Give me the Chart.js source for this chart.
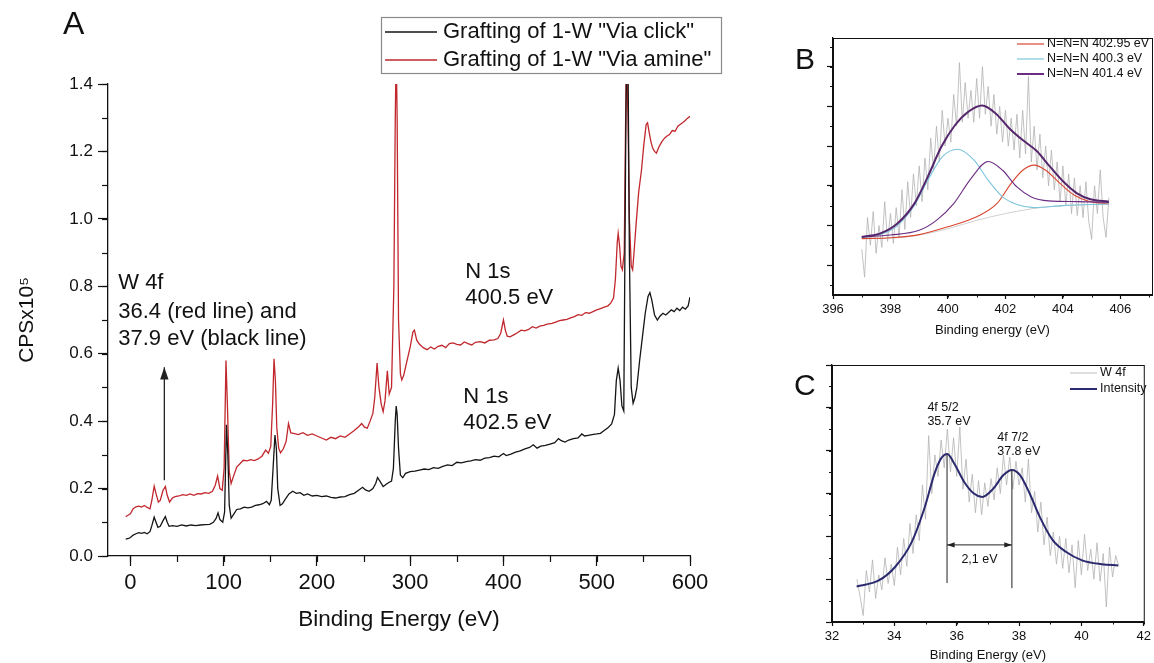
<!DOCTYPE html>
<html>
<head>
<meta charset="utf-8">
<title>XPS spectra</title>
<script src="https://cdn.jsdelivr.net/npm/chart.js@4.4.1/dist/chart.umd.min.js"></script>
<style>
  html, body { margin: 0; padding: 0; background: #fff; }
  body { width: 1154px; height: 663px; position: relative; overflow: hidden; }
  .panel { position: absolute; }
</style>
</head>
<body>
<div class="panel" style="left:0;top:0;width:760px;height:663px"><canvas id="chartA"></canvas></div>
<div class="panel" style="left:780px;top:0;width:374px;height:345px"><canvas id="chartB"></canvas></div>
<div class="panel" style="left:780px;top:345px;width:374px;height:318px"><canvas id="chartC"></canvas></div>
<script>
// ---- Panel A : survey spectra (CPS x 10^5 vs binding energy) ----
var clickEnergy = [-5,-2,0,3,6,9,12,15,18,21,23,25.5,27.5,29.5,32,35,37.5,39.5,41.5,45,50,55,60,65,70,75,80,85,89,92,94,96,99,101,103,104.5,106,108,111,114,118,122,126,130,134,138,142,146,149,151,153,155,156.5,158,160.5,163,166,170,174,178,182,186,190,195,200,205,210,215,220,225,230,235,240,245,249,252,256,260,263,265,268,271,274,277,280,282,284,285,286,287.5,289.5,292,295,300,305,310,315,320,325,330,335,340,345,350,355,360,365,370,375,380,385,390,395,400,403,408,413,418,423,428,432,436,440,445,450,455,459,462,466,470,475,480,484,487,491,495,500,504,508,512,516,519,521,523,525,527,529,531,532,533.5,535,537,539,541,543,546,549,552,555,557,559,562,565,568,571,574,577,580,583,586,589,592,595,598,600];
var clickCps = [0.050,0.052,0.055,0.062,0.066,0.069,0.067,0.070,0.066,0.072,0.090,0.115,0.100,0.085,0.088,0.105,0.117,0.100,0.088,0.090,0.088,0.092,0.089,0.092,0.090,0.092,0.093,0.094,0.100,0.112,0.128,0.108,0.100,0.130,0.389,0.300,0.150,0.112,0.125,0.138,0.140,0.145,0.143,0.145,0.150,0.152,0.155,0.162,0.152,0.165,0.260,0.359,0.320,0.200,0.150,0.155,0.168,0.184,0.192,0.186,0.188,0.180,0.184,0.178,0.180,0.176,0.178,0.174,0.172,0.175,0.176,0.182,0.186,0.196,0.204,0.196,0.192,0.200,0.215,0.233,0.220,0.206,0.212,0.218,0.222,0.260,0.400,0.445,0.420,0.320,0.240,0.232,0.245,0.250,0.252,0.255,0.258,0.256,0.262,0.260,0.266,0.270,0.268,0.278,0.276,0.280,0.282,0.286,0.284,0.290,0.292,0.296,0.294,0.304,0.298,0.302,0.308,0.312,0.318,0.322,0.330,0.320,0.326,0.328,0.332,0.336,0.348,0.342,0.338,0.344,0.348,0.350,0.362,0.356,0.358,0.360,0.362,0.364,0.372,0.380,0.392,0.420,0.520,0.557,0.520,0.445,0.430,1.200,1.500,1.500,0.900,0.500,0.453,0.470,0.500,0.580,0.650,0.720,0.770,0.781,0.760,0.715,0.700,0.712,0.720,0.715,0.722,0.730,0.725,0.735,0.728,0.738,0.732,0.742,0.768];

var amineEnergy = [-5,-3,0,3,6,9,12,15,18,21,23,25.5,27.5,30,32,35,37.5,39.5,42,45,48,52,56,60,64,68,72,76,80,84,88,91,93.5,96,98.5,100.5,102.5,104,106,108,111,114,118,121,125,129,133,137,141,145,148,150.5,152.5,154,155.5,157,159,161,164,167,169.5,172,175,180,185,190,195,200,205,210,215,220,225,230,235,240,245,248,251,254,257,260,262,264.5,266.5,269,271,273,275.5,277.5,280,282.5,284,285,286,287.5,289.5,291,293,296,300,303,304.5,307,310,314,318,322,326,330,334,338,342,346,350,354,358,362,366,370,375,380,385,390,394,397,400,402,404,407,411,415,419,423,427,431,435,439,443,447,452,456,460,464,468,472,476,480,484,488,492,496,500,504,508,512,515,518,520,522,523,524.5,526,527.5,529.5,531,532,533.5,535,537,538.5,540,542,545,548,550.5,553,554.5,556,558,560,562,564,567,570,573,575,578,581,584,587,589,592,595,597,600];
var amineCps = [0.117,0.120,0.125,0.140,0.146,0.148,0.145,0.150,0.144,0.140,0.165,0.207,0.185,0.160,0.165,0.195,0.206,0.180,0.160,0.172,0.176,0.178,0.182,0.180,0.184,0.180,0.185,0.184,0.188,0.186,0.192,0.210,0.237,0.200,0.195,0.260,0.580,0.450,0.250,0.215,0.240,0.264,0.275,0.284,0.282,0.286,0.283,0.288,0.296,0.314,0.305,0.325,0.450,0.585,0.520,0.380,0.320,0.306,0.318,0.340,0.393,0.365,0.364,0.360,0.366,0.358,0.362,0.356,0.350,0.344,0.352,0.348,0.356,0.352,0.362,0.372,0.384,0.393,0.382,0.379,0.400,0.423,0.470,0.572,0.500,0.450,0.428,0.460,0.549,0.480,0.500,0.800,1.300,1.500,1.300,0.700,0.540,0.522,0.535,0.572,0.620,0.665,0.670,0.640,0.628,0.618,0.612,0.620,0.614,0.622,0.625,0.618,0.630,0.632,0.628,0.626,0.635,0.630,0.626,0.634,0.636,0.632,0.640,0.641,0.645,0.660,0.700,0.670,0.652,0.650,0.656,0.662,0.670,0.668,0.672,0.680,0.676,0.682,0.684,0.688,0.690,0.694,0.698,0.700,0.702,0.706,0.710,0.716,0.714,0.722,0.720,0.725,0.730,0.734,0.738,0.742,0.750,0.765,0.820,0.930,0.957,0.920,0.860,0.849,0.900,1.300,1.500,1.300,1.000,0.860,0.849,0.900,0.977,1.080,1.145,1.220,1.280,1.285,1.260,1.230,1.210,1.200,1.195,1.215,1.230,1.240,1.245,1.250,1.262,1.260,1.275,1.279,1.285,1.292,1.298,1.304];

var xTicksA = [0, 100, 200, 300, 400, 500, 600];
var yTicksA = [0.0, 0.2, 0.4, 0.6, 0.8, 1.0, 1.2, 1.4];

// ---- Panel B : N 1s high resolution ----
var n1sEnergy = [397.0,397.1,397.2,397.3,397.4,397.5,397.6,397.7,397.8,397.9,398.0,398.1,398.2,398.3,398.4,398.5,398.6,398.7,398.8,398.9,399.0,399.1,399.2,399.3,399.4,399.5,399.6,399.7,399.8,399.9,400.0,400.1,400.2,400.3,400.4,400.5,400.6,400.7,400.8,400.9,401.0,401.1,401.2,401.3,401.4,401.5,401.6,401.7,401.8,401.9,402.0,402.1,402.2,402.3,402.4,402.5,402.6,402.7,402.8,402.9,403.0,403.1,403.2,403.3,403.4,403.5,403.6,403.7,403.8,403.9,404.0,404.1,404.2,404.3,404.4,404.5,404.6,404.7,404.8,404.9,405.0,405.1,405.2,405.3,405.4,405.5,405.6];
var n1sRaw = [0.4,-0.3,1.2,0.5,1.35,0.3,1.0,0.45,1.6,0.6,1.3,0.55,1.45,0.7,1.9,0.9,2.1,1.2,2.3,1.5,2.5,1.6,2.7,1.9,3.2,2.4,3.5,2.6,3.9,3.0,3.7,3.1,4.3,3.5,5.1,3.6,4.6,3.7,4.4,3.6,4.7,3.7,5.0,3.8,4.5,3.5,4.3,3.3,4.0,3.1,3.9,3.0,3.7,2.9,3.8,2.7,3.9,2.8,4.75,2.6,3.5,2.4,3.3,2.2,3.0,2.0,2.9,1.9,2.6,1.6,2.5,1.5,2.3,1.3,2.2,1.25,2.0,1.2,2.1,1.1,0.65,2.0,1.3,2.4,1.2,0.7,1.7];

var envBEnergy = [397.0,397.65,398.24,398.83,399.3,399.77,400.25,400.72,401.19,401.66,402.13,402.6,403.08,403.55,404.02,404.49,404.96,405.6];
var envBValue = [0.71,0.80,1.05,1.55,2.23,2.98,3.53,3.87,4.02,3.82,3.45,3.15,2.88,2.48,2.10,1.81,1.66,1.60];
var baseBEnergy = [397,398,399,400,401,402,403,404,405.6];
var baseBValue = [0.67,0.68,0.76,0.92,1.13,1.30,1.43,1.50,1.54];
var peak402Energy = [397,398,399,400,401,401.7,402.2,402.6,403.0,403.4,403.9,404.4,404.9,405.6];
var peak402Value = [0.67,0.69,0.77,0.97,1.22,1.55,2.06,2.39,2.52,2.39,2.06,1.76,1.61,1.54];
var peak400Energy = [397,397.6,398.2,398.8,399.3,399.8,400.35,400.9,401.4,401.9,402.4,403,404,405.6];
var peak400Value = [0.70,0.76,0.97,1.47,2.14,2.73,2.92,2.65,2.14,1.72,1.53,1.45,1.50,1.54];
var peak401Energy = [397,398,399,399.6,400.2,400.8,401.4,401.9,402.4,402.9,403.5,404.5,405.6];
var peak401Value = [0.71,0.76,0.88,1.13,1.55,2.18,2.61,2.39,1.97,1.72,1.62,1.60,1.58];
var xTicksB = [396, 398, 400, 402, 404, 406];

// ---- Panel C : W 4f high resolution ----
var w4fEnergy = [32.8,32.9,33.0,33.1,33.2,33.3,33.4,33.5,33.6,33.7,33.8,33.9,34.0,34.1,34.2,34.3,34.4,34.5,34.6,34.7,34.8,34.9,35.0,35.1,35.2,35.3,35.4,35.5,35.6,35.7,35.8,35.9,36.0,36.1,36.2,36.3,36.4,36.5,36.6,36.7,36.8,36.9,37.0,37.1,37.2,37.3,37.4,37.5,37.6,37.7,37.8,37.9,38.0,38.1,38.2,38.3,38.4,38.5,38.6,38.7,38.8,38.9,39.0,39.1,39.2,39.3,39.4,39.5,39.6,39.7,39.8,39.9,40.0,40.1,40.2,40.3,40.4,40.5,40.6,40.7,40.8,40.9,41.0,41.1,41.2];
var w4fRaw = [1.0,0.6,0.15,1.2,0.7,1.45,0.55,1.1,0.75,1.5,0.9,1.35,0.85,1.75,1.1,1.95,1.3,2.3,1.6,2.5,1.9,3.2,2.4,4.35,3.0,3.9,3.4,4.25,3.6,4.5,3.5,4.3,3.4,4.55,3.1,3.8,2.8,3.45,2.55,3.3,2.5,3.25,2.7,3.35,2.85,3.6,3.0,3.9,3.2,3.85,3.1,3.75,3.2,3.6,2.8,3.8,2.55,3.05,2.1,2.8,1.8,2.45,1.55,2.1,1.35,2.0,1.25,1.95,1.15,1.8,0.8,1.9,1.1,2.05,1.2,1.7,1.0,1.85,0.95,1.6,0.35,1.75,1.05,1.55,1.3];
var envCEnergy = [32.79,33.5,34.03,34.56,34.98,35.29,35.5,35.7,35.92,36.24,36.55,36.82,37.18,37.5,37.77,38.03,38.34,38.66,39.08,39.5,40.02,40.65,41.18];
var envCValue = [0.83,0.97,1.29,1.87,2.69,3.47,3.82,3.92,3.70,3.27,3.0,2.92,3.12,3.43,3.55,3.43,3.0,2.46,1.91,1.64,1.44,1.35,1.32];
var xTicksC = [32, 34, 36, 38, 40, 42];

var FONT = "'Liberation Sans', Arial, sans-serif";
Chart.defaults.font.family = FONT;
Chart.defaults.color = '#111';

function pts(xs, ys) {
  return xs.map(function (x, i) { return { x: x, y: ys[i] }; });
}

function drawHead(ctx, x1, y1, x2, y2, size) {
  var ang = Math.atan2(y2 - y1, x2 - x1);
  ctx.beginPath();
  ctx.moveTo(x2, y2);
  ctx.lineTo(x2 - size * Math.cos(ang - 0.33), y2 - size * Math.sin(ang - 0.33));
  ctx.lineTo(x2 - size * Math.cos(ang + 0.33), y2 - size * Math.sin(ang + 0.33));
  ctx.closePath();
  ctx.fill();
}

// minor ticks, frame, legend box and text notes
var decor = {
  id: 'decor',
  afterDraw: function (chart, args, o) {
    var ctx = chart.ctx, a = chart.chartArea;
    var xs = chart.scales.x, ys = chart.scales.y;
    ctx.save();
    ctx.strokeStyle = '#111';
    ctx.fillStyle = '#111';
    ctx.lineWidth = o.tickWidth || 1;
    var i, p;
    if (o.xMinor) {
      for (i = Math.ceil(xs.min / o.xMinor - 1e-9); i * o.xMinor <= xs.max + 1e-9; i++) {
        p = Math.round(xs.getPixelForValue(i * o.xMinor)) + 0.5;
        ctx.beginPath(); ctx.moveTo(p, a.bottom); ctx.lineTo(p, a.bottom + o.xMinorLen); ctx.stroke();
      }
    }
    if (o.yMinor) {
      for (i = Math.ceil(ys.min / o.yMinor - 1e-9); i * o.yMinor <= ys.max + 1e-9; i++) {
        p = Math.round(ys.getPixelForValue(i * o.yMinor)) + 0.5;
        ctx.beginPath(); ctx.moveTo(a.left, p); ctx.lineTo(a.left - o.yMinorLen, p); ctx.stroke();
      }
    }
    if (o.box) {
      ctx.lineWidth = 1;
      ctx.strokeRect(a.left + 0.5, a.top + 0.5, a.right - a.left, a.bottom - a.top);
    }
    if (o.legend) {
      var L = o.legend;
      if (L.frame) {
        ctx.strokeStyle = '#8a8a8a';
        ctx.lineWidth = 1.2;
        ctx.strokeRect(L.frame[0], L.frame[1], L.frame[2], L.frame[3]);
      }
      ctx.font = L.size + 'px ' + FONT;
      ctx.textAlign = 'left';
      ctx.textBaseline = 'middle';
      L.rows.forEach(function (r) {
        ctx.strokeStyle = r.color;
        ctx.lineWidth = r.width;
        ctx.beginPath(); ctx.moveTo(L.x1, r.y); ctx.lineTo(L.x2, r.y); ctx.stroke();
        ctx.fillStyle = '#111';
        ctx.fillText(r.text, L.tx, r.y);
      });
    }
    (o.lines || []).forEach(function (l) {
      var x1 = xs.getPixelForValue(l.x1), y1 = ys.getPixelForValue(l.y1);
      var x2 = xs.getPixelForValue(l.x2), y2 = ys.getPixelForValue(l.y2);
      ctx.strokeStyle = '#222';
      ctx.fillStyle = '#222';
      ctx.lineWidth = l.width || 1;
      ctx.beginPath(); ctx.moveTo(x1, y1); ctx.lineTo(x2, y2); ctx.stroke();
      if (l.head2) drawHead(ctx, x1, y1, x2, y2, l.head);
      if (l.head1) drawHead(ctx, x2, y2, x1, y1, l.head);
    });
    (o.notes || []).forEach(function (n) {
      ctx.font = n.size + 'px ' + FONT;
      ctx.fillStyle = '#111';
      ctx.textAlign = n.align || 'left';
      ctx.textBaseline = 'middle';
      var px = n.px ? n.x : xs.getPixelForValue(n.x);
      var py = n.px ? n.y : ys.getPixelForValue(n.y);
      ctx.fillText(n.text, px, py);
    });
    ctx.restore();
  }
};

function axisX(min, max, step, fontSize, tickLen, pad, h, title, titleSize, titlePad) {
  return {
    type: 'linear', min: min, max: max,
    afterFit: function (s) { s.height = h; },
    border: { display: true, color: '#111', width: 1.3 },
    grid: { display: true, drawOnChartArea: false, drawTicks: true, tickLength: tickLen, tickColor: '#111', tickWidth: 1.2 },
    ticks: { stepSize: step, includeBounds: false, autoSkip: false, maxRotation: 0, padding: pad, color: '#111', font: { size: fontSize } },
    title: { display: true, text: title, color: '#111', font: { size: titleSize }, padding: { top: titlePad, bottom: titlePad } }
  };
}

function axisY(min, max, step, w, tickLen, showLabels) {
  return {
    type: 'linear', min: min, max: max,
    afterFit: function (s) { s.width = w; },
    border: { display: true, color: '#111', width: 1.3 },
    grid: { display: true, drawOnChartArea: false, drawTicks: true, tickLength: tickLen, tickColor: '#111', tickWidth: 1.2 },
    ticks: { display: showLabels, stepSize: step, includeBounds: false, autoSkip: false, padding: 5, color: '#111', font: { size: 17 },
      callback: function (v) { return v.toFixed(1); } }
  };
}

function line(data, color, width, smooth) {
  return {
    data: data, borderColor: color, backgroundColor: color, borderWidth: width,
    pointRadius: 0, fill: false, tension: smooth ? 0.4 : 0,
    cubicInterpolationMode: smooth ? 'monotone' : 'default'
  };
}

var base = {
  responsive: true, maintainAspectRatio: false, animation: false,
  events: [],
  plugins: { legend: { display: false }, tooltip: { enabled: false } }
};

// Panel A
var ctxA = document.getElementById('chartA').getContext('2d');
var yA = axisY(yTicksA[0], yTicksA[yTicksA.length - 1], 0.2, 108, 10, true);
yA.title = { display: true, text: 'CPSx10\u2075', color: '#111', font: { size: 21 }, padding: { top: 15, bottom: 15 } };
new Chart(ctxA, {
  type: 'line',
  data: { datasets: [
    line(pts(clickEnergy, clickCps), '#151515', 1.3, false),
    line(pts(amineEnergy, amineCps), '#c1272d', 1.3, false)
  ] },
  options: Object.assign({}, base, {
    layout: { padding: { left: 0, top: 84, right: 70, bottom: 0 } },
    scales: {
      x: axisX(-24, xTicksA[xTicksA.length - 1], 100, 22, 10, 4, 107, 'Binding Energy (eV)', 22.5, 30),
      y: yA
    },
    plugins: Object.assign({}, base.plugins, {
      decor: {
        xMinor: 50, xMinorLen: 6, yMinor: 0.1, yMinorLen: 6, tickWidth: 1.2,
        legend: { frame: [381.5, 17.5, 340, 56], x1: 385, x2: 437, tx: 443, size: 22, rows: [
          { text: 'Grafting of 1-W "Via click"', color: '#151515', width: 1.4, y: 32 },
          { text: 'Grafting of 1-W "Via amine"', color: '#c1272d', width: 1.4, y: 60 }
        ] },
        lines: [ { x1: 36.4, y1: 0.225, x2: 36.4, y2: 0.56, head2: true, head: 13, width: 1.3 } ],
        notes: [
          { text: 'A', x: 63, y: 25, px: true, size: 32 },
          { text: 'W 4f', x: -13, y: 0.81, size: 22 },
          { text: '36.4 (red line) and', x: -13, y: 0.724, size: 22 },
          { text: '37.9 eV (black line)', x: -13, y: 0.644, size: 22 },
          { text: 'N 1s', x: 359, y: 0.843, size: 22 },
          { text: '400.5 eV', x: 359, y: 0.766, size: 22 },
          { text: 'N 1s', x: 357, y: 0.472, size: 22 },
          { text: '402.5 eV', x: 357, y: 0.395, size: 22 }
        ]
      }
    })
  }),
  plugins: [decor]
});

// Panel B
var ctxB = document.getElementById('chartB').getContext('2d');
var dsB = [
  line(pts(envBEnergy, envBValue), '#55266b', 2, true),
  line(pts(peak401Energy, peak401Value), '#6b2d83', 1.1, true),
  line(pts(peak400Energy, peak400Value), '#7cc4dc', 1.1, true),
  line(pts(peak402Energy, peak402Value), '#d9462f', 1.1, true),
  line(pts(baseBEnergy, baseBValue), '#d0d0d0', 1, true),
  line(pts(n1sEnergy, n1sRaw), '#b3b3b3', 0.8, false)
];
new Chart(ctxB, {
  type: 'line',
  data: { datasets: dsB },
  options: Object.assign({}, base, {
    layout: { padding: { left: 0, top: 38, right: 2, bottom: 0 } },
    scales: {
      x: axisX(xTicksB[0], 407.1, 2, 13, 4, 3, 50, 'Binding energy (eV)', 13, 7),
      y: axisY(-0.75, 5.72, 1, 53, 6, false)
    },
    plugins: Object.assign({}, base.plugins, {
      decor: {
        xMinor: 1, xMinorLen: 2.5, yMinor: 0.5, yMinorLen: 3, box: true,
        legend: { x1: 237, x2: 264, tx: 267, size: 12.5, rows: [
          { text: 'N=N=N 402.95 eV', color: '#d9462f', width: 1.2, y: 44 },
          { text: 'N=N=N 400.3 eV', color: '#7cc4dc', width: 1.2, y: 59 },
          { text: 'N=N=N 401.4 eV', color: '#6b2d83', width: 2, y: 74 }
        ] },
        notes: [ { text: 'B', x: 15, y: 61, px: true, size: 30 } ]
      }
    })
  }),
  plugins: [decor]
});

// Panel C
var ctxC = document.getElementById('chartC').getContext('2d');
new Chart(ctxC, {
  type: 'line',
  data: { datasets: [
    line(pts(envCEnergy, envCValue), '#2b2a6e', 2, true),
    line(pts(w4fEnergy, w4fRaw), '#b3b3b3', 0.8, false)
  ] },
  options: Object.assign({}, base, {
    layout: { padding: { left: 0, top: 20, right: 5, bottom: 0 } },
    scales: {
      x: axisX(xTicksC[0], xTicksC[xTicksC.length - 1], 2, 13, 4, 3, 41, 'Binding Energy (eV)', 13, 0),
      y: axisY(0, 6, 1, 52, 6, false)
    },
    plugins: Object.assign({}, base.plugins, {
      decor: {
        xMinor: 1, xMinorLen: 2.5, yMinor: 0.5, yMinorLen: 3, box: true,
        legend: { x1: 290, x2: 317, tx: 320, size: 12.5, rows: [
          { text: 'W 4f', color: '#bdbdbd', width: 1, y: 28 },
          { text: 'Intensity', color: '#2b2a6e', width: 2, y: 44 }
        ] },
        lines: [
          { x1: 35.69, y1: 0.91, x2: 35.69, y2: 3.9, width: 1 },
          { x1: 37.77, y1: 0.79, x2: 37.77, y2: 3.55, width: 1 },
          { x1: 35.69, y1: 1.8, x2: 37.77, y2: 1.8, head1: true, head2: true, head: 8, width: 1 }
        ],
        notes: [
          { text: 'C', x: 14, y: 42, px: true, size: 30 },
          { text: '4f 5/2', x: 35.06, y: 5.0, size: 12.5 },
          { text: '35.7 eV', x: 35.06, y: 4.67, size: 12.5 },
          { text: '4f 7/2', x: 37.3, y: 4.3, size: 12.5 },
          { text: '37.8 eV', x: 37.3, y: 3.97, size: 12.5 },
          { text: '2,1 eV', x: 36.73, y: 1.45, size: 12.5, align: 'center' }
        ]
      }
    })
  }),
  plugins: [decor]
});
</script>
</body>
</html>
